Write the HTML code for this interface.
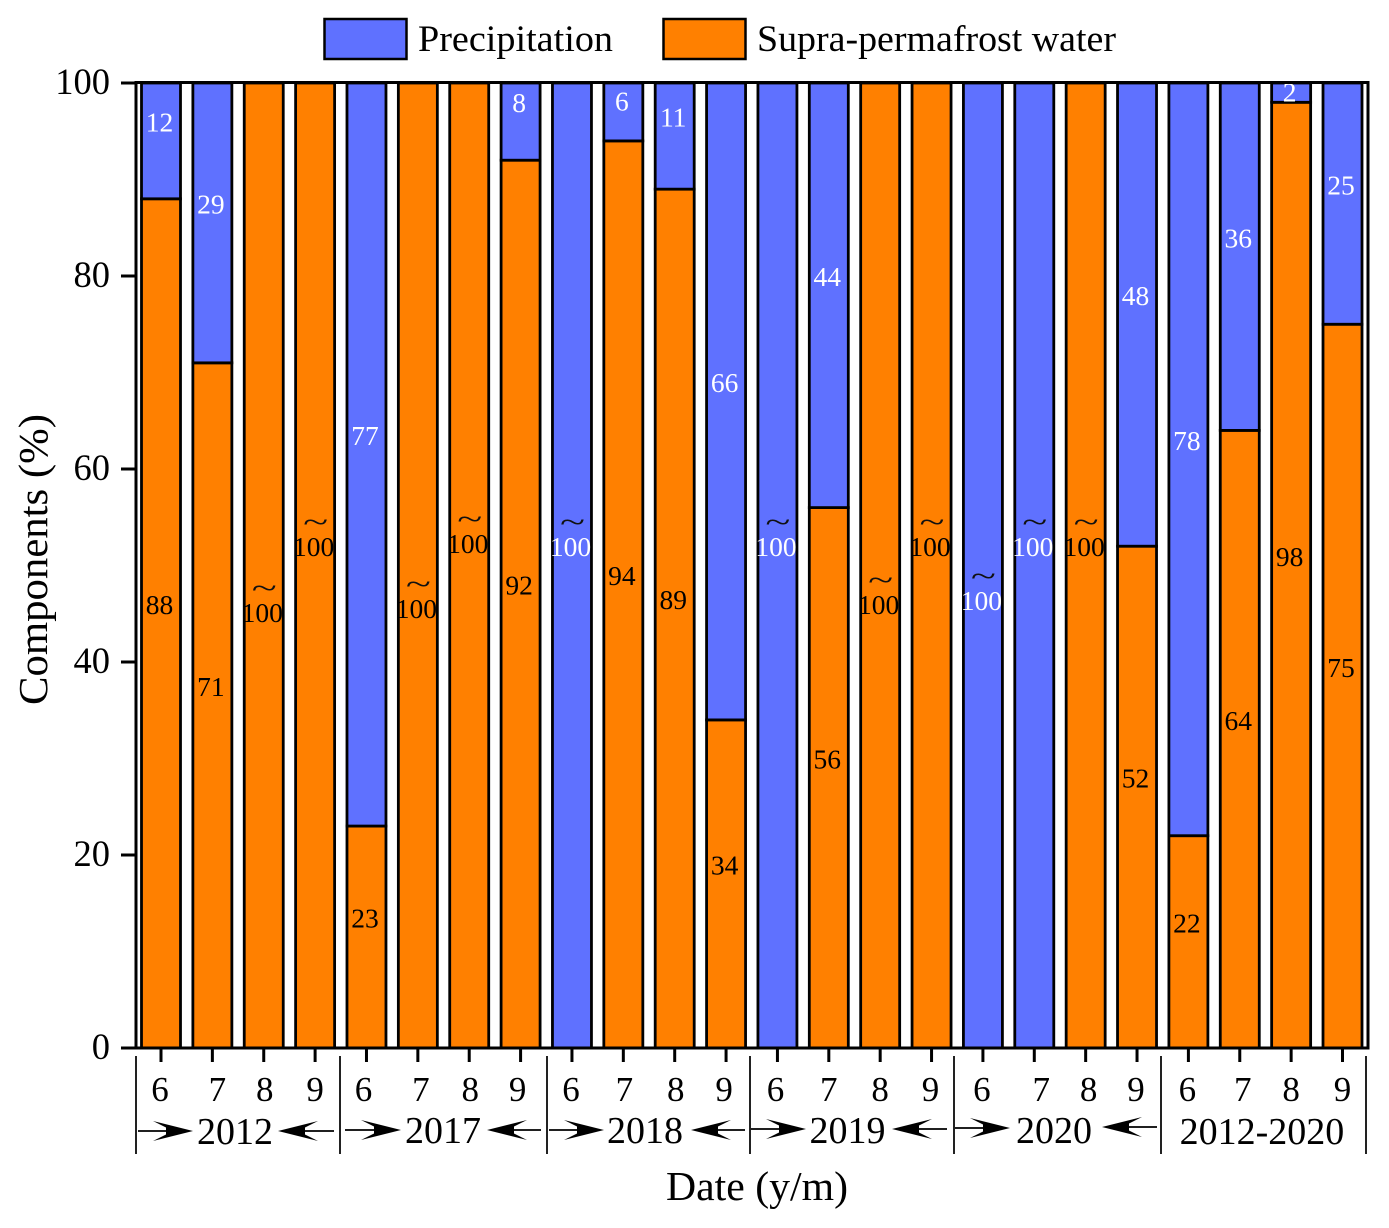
<!DOCTYPE html>
<html lang="en">
<head>
<meta charset="utf-8">
<title>Components of water by date</title>
<style>
  html, body { margin: 0; padding: 0; background: #fff; }
  svg { display: block; font-family: "Liberation Serif", "Times New Roman", serif; }
</style>
</head>
<body>
<svg id="chart" width="1389" height="1228" viewBox="0 0 1389 1228" xmlns="http://www.w3.org/2000/svg">
  <rect x="0" y="0" width="1389" height="1228" fill="#fff"/>
  <g>
    <g>
      <rect x="324.5" y="19" width="82" height="40" fill="#5F71FF" stroke="#000" stroke-width="2.5"/>
      <text x="418" y="51" font-size="37" textLength="195" lengthAdjust="spacingAndGlyphs">Precipitation</text>
    </g>
    <g>
      <rect x="663.5" y="19" width="82" height="40" fill="#FF8000" stroke="#000" stroke-width="2.5"/>
      <text x="757" y="51" font-size="37" textLength="359" lengthAdjust="spacingAndGlyphs">Supra-permafrost water</text>
    </g>
  </g>
  <g id="bars"></g>
  <g id="labels"></g>
  <g id="axes"></g>
  <text transform="translate(47,705) rotate(-90)" font-size="41" textLength="291" lengthAdjust="spacingAndGlyphs">Components (%)</text>
  <text x="666" y="1200" font-size="41" textLength="182" lengthAdjust="spacingAndGlyphs">Date (y/m)</text>
</svg>
<script>
const months = ["6","7","8","9","6","7","8","9","6","7","8","9","6","7","8","9","6","7","8","9","6","7","8","9"];
const precipitation = [12,29,0,0,77,0,0,8,100,6,11,66,100,44,0,0,100,100,0,48,78,36,2,25];
const supraWater = [88,71,100,100,23,100,100,92,0,94,89,34,0,56,100,100,0,0,100,52,22,64,98,75];
const precipLabelLevel = [null,null,null,null,null,null,null,null,51.8,98,null,null,51.8,null,null,null,46.2,51.8,null,null,null,null,98.9,null];
const supraLabelLevel = [null,null,45,51.8,null,45.4,52.1,null,null,null,null,null,null,null,45.8,51.8,null,null,51.8,null,null,null,null,null];
const yTickValues = [0,20,40,60,80,100];
const yTickLabels = ["0","20","40","60","80","100"];
const groupLabels = ["2012","2017","2018","2019","2020","2012-2020"];
const monthLabelNudge = [-1,5,1,0,-3,3,1,-3,-1,1,1,-2,-2,0,0,-1,-1,7,3,-1,-1,3,0,0];
const groupLabelNudge = [-3,-0.5,-4,-7,-6,-3.5];

const NS = "http://www.w3.org/2000/svg";
const BLUE = "#5F71FF";
const ORANGE = "#FF8000";
const plot = { left: 136, right: 1368, top: 83, bottom: 1048 };
const barWidth = 39;
const barPitch = 51.37;
const firstBarCenter = 161;

function xScale(i) { return firstBarCenter + barPitch * i; }
function yScale(v) { return plot.bottom - (plot.bottom - plot.top) * v / 100; }

function make(tag, attrs, parent, text) {
  const el = document.createElementNS(NS, tag);
  for (const k in attrs) el.setAttribute(k, attrs[k]);
  if (text !== undefined) el.textContent = text;
  parent.appendChild(el);
  return el;
}

const barsG = document.getElementById("bars");
const labelsG = document.getElementById("labels");
const axesG = document.getElementById("axes");

function drawSegment(i, base, value, fill, seriesName) {
  if (value <= 0) return;
  const yTop = yScale(base + value);
  const yBase = yScale(base);
  const el = make("rect", { x: xScale(i) - barWidth / 2, y: yTop, width: barWidth, height: yBase - yTop, fill: fill, stroke: "#000", "stroke-width": 2.8 }, barsG);
  
  
}

function drawLabel(i, base, value, override, color, seriesName) {
  if (value <= 0) return;
  const level = override !== null ? override : base + value / 2 + 1.8;
  const cy = yScale(level);
  const cx = xScale(i) - 1.5;
  const t = make("text", { x: cx, y: cy + 8, "text-anchor": "middle", "font-size": 27.5, fill: color }, labelsG, String(value));
  
  
  if (value === 100) {
    const tilde = make("text", { x: cx + 2, y: cy - 16, "text-anchor": "middle", "font-size": 30, textLength: 25, lengthAdjust: "spacingAndGlyphs", fill: "#111" }, labelsG, "~");
    
    
  }
}

months.forEach(function (m, i) {
  drawSegment(i, 0, supraWater[i], ORANGE, 'supra-permafrost-water');
  drawSegment(i, supraWater[i], precipitation[i], BLUE, 'precipitation');
});
months.forEach(function (m, i) {
  drawLabel(i, 0, supraWater[i], supraLabelLevel[i], "#000", 'supra-permafrost-water');
  drawLabel(i, supraWater[i], precipitation[i], precipLabelLevel[i], "#fff", 'precipitation');
});

/* plot frame */
const frame = make("rect", { x: plot.left, y: plot.top - 0.5, width: plot.right - plot.left, height: plot.bottom - plot.top + 0.5, fill: "none", stroke: "#000", "stroke-width": 3 }, axesG);



/* y axis ticks */
yTickValues.forEach(function (v, k) {
  const y = yScale(v);
  const tick = make("line", { x1: 121, x2: plot.left, y1: y, y2: y, stroke: "#000", "stroke-width": 3 }, axesG);
  
  
  const lab = make("text", { x: 110, y: y + 11, "text-anchor": "end", "font-size": 36.5 }, axesG, yTickLabels[k]);
  
  
});

/* x axis ticks and month labels */
months.forEach(function (m, i) {
  const x = xScale(i);
  const tick = make("line", { x1: x, x2: x, y1: plot.bottom, y2: plot.bottom + 14, stroke: "#000", "stroke-width": 3 }, axesG);
  
  
  const lab = make("text", { x: x + monthLabelNudge[i], y: 1101, "text-anchor": "middle", "font-size": 35 }, axesG, m);
  
  
});

/* group separators */
[136, 340, 547, 750, 954, 1161, 1366].forEach(function (x, k) {
  const sep = make("line", { x1: x, x2: x, y1: 1056, y2: 1154, stroke: "#222", "stroke-width": 2 }, axesG);
  
  
});

/* group labels */
groupLabels.forEach(function (g, k) {
  const cx = (xScale(k * 4) + xScale(k * 4 + 3)) / 2 + groupLabelNudge[k];
  const lab = make("text", { x: cx, y: 1144 - (k > 0 && k < 5 ? 1 : 0), "text-anchor": "middle", "font-size": 38 }, axesG, g);
  
  
});

/* bracket arrows */
function drawArrow(startX, tipX, y, name) {
  const dir = tipX > startX ? 1 : -1;
  const line = make("line", { x1: startX, x2: tipX - dir * 8, y1: y, y2: y, stroke: "#000", "stroke-width": 1.8 }, axesG);
  
  
  const backX = tipX - dir * 40;
  const notchX = tipX - dir * 27;
  const pts = [tipX + "," + y, backX + "," + (y - 10), notchX + "," + (y - 3.5), notchX + "," + (y + 3.5), backX + "," + (y + 10)].join(" ");
  const head = make("polygon", { points: pts, fill: "#000" }, axesG);
  
  
}
drawArrow(138, 193, 1131, 'arrow-2012-right');
drawArrow(334, 278, 1131, 'arrow-2012-left');
drawArrow(345, 401, 1130, 'arrow-2017-right');
drawArrow(541, 487, 1130, 'arrow-2017-left');
drawArrow(549, 604, 1130, 'arrow-2018-right');
drawArrow(745, 691, 1130, 'arrow-2018-left');
drawArrow(751, 806, 1129, 'arrow-2019-right');
drawArrow(947, 892, 1129, 'arrow-2019-left');
drawArrow(955, 1010, 1128, 'arrow-2020-right');
drawArrow(1157, 1102, 1127, 'arrow-2020-left');
</script>
</body>
</html>
